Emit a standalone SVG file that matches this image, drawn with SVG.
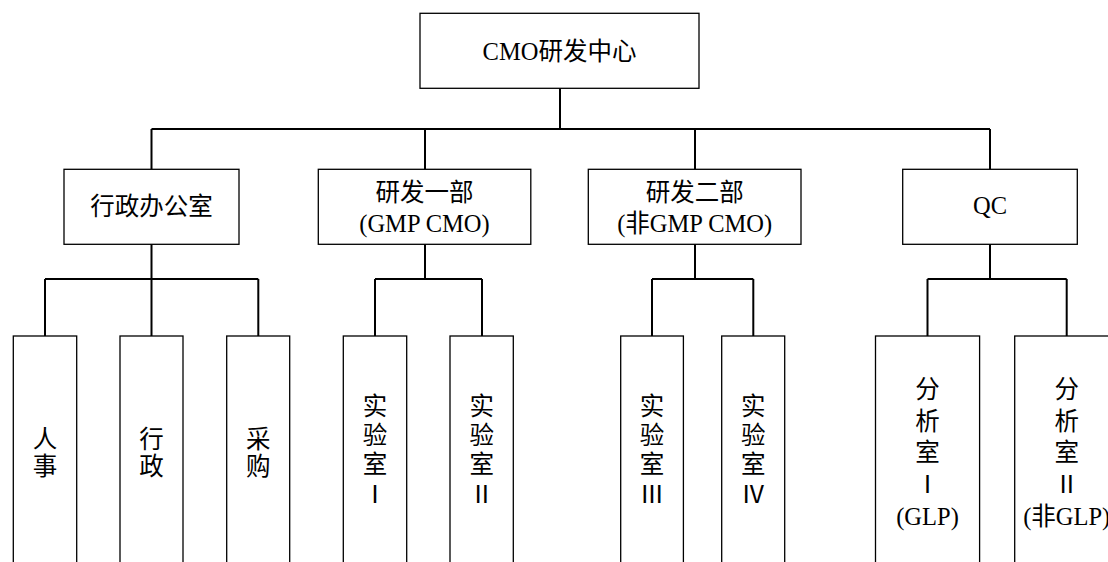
<svg xmlns="http://www.w3.org/2000/svg" width="1108" height="562" viewBox="0 0 1108 562">
<style>
.box{fill:#fff;stroke:#000;stroke-width:1.3}
.con{fill:none;stroke:#000;stroke-width:2}
text{font-family:"Liberation Serif","Noto Sans CJK SC",serif;font-size:24.5px;fill:#000;text-anchor:middle}
</style>
<rect width="1108" height="562" fill="#fff"/>
<g id="connectors" class="con">
<path d="M560 88V129M151.5 129H990M151.5 129V169M425 129V169M695 129V169M990 129V169"/>
<path d="M151.5 244V279M45 279H258.3M45 279V336M151.5 279V336M258.3 279V336"/>
<path d="M425 244V279M375 279H482M375 279V336M482 279V336"/>
<path d="M695 244V279M652 279H753.3M652 279V336M753.3 279V336"/>
<path d="M990 244V279M927.5 279H1066.7M927.5 279V336M1066.7 279V336"/>
</g>
<g id="n-root"><rect class="box" x="420" y="13.3" width="279" height="75"/><text x="559.5" y="60">CMO研发中心</text></g>
<g id="n-admin"><rect class="box" x="64" y="169.3" width="175" height="75"/><text x="151.5" y="215">行政办公室</text></g>
<g id="n-rd1"><rect class="box" x="318.3" y="169.3" width="212.5" height="75"/><text x="424.5" y="201">研发一部</text><text x="424.5" y="232">(GMP CMO)</text></g>
<g id="n-rd2"><rect class="box" x="588.3" y="169.3" width="212.7" height="75"/><text x="694.7" y="201">研发二部</text><text x="694.7" y="232">(非GMP CMO)</text></g>
<g id="n-qc"><rect class="box" x="902.7" y="169.3" width="174.6" height="75"/><text x="990" y="214">QC</text></g>
<g id="n-hr"><rect class="box" x="13.3" y="336" width="63.4" height="260"/><text x="45" y="448">人</text><text x="45" y="475">事</text></g>
<g id="n-adm"><rect class="box" x="120" y="336" width="63" height="260"/><text x="151.5" y="448">行</text><text x="151.5" y="475">政</text></g>
<g id="n-pur"><rect class="box" x="226.7" y="336" width="63" height="260"/><text x="258.2" y="448">采</text><text x="258.2" y="475">购</text></g>
<g id="n-lab1"><rect class="box" x="343.3" y="336" width="63.4" height="260"/><text x="375" y="415">实</text><text x="375" y="444">验</text><text x="375" y="473">室</text><text x="375" y="503">Ⅰ</text></g>
<g id="n-lab2"><rect class="box" x="450" y="336" width="63.3" height="260"/><text x="481.7" y="415">实</text><text x="481.7" y="444">验</text><text x="481.7" y="473">室</text><text x="481.7" y="503">Ⅱ</text></g>
<g id="n-lab3"><rect class="box" x="620.7" y="336" width="62.7" height="260"/><text x="652" y="415">实</text><text x="652" y="444">验</text><text x="652" y="473">室</text><text x="652" y="503">Ⅲ</text></g>
<g id="n-lab4"><rect class="box" x="721.7" y="336" width="63" height="260"/><text x="753.2" y="415">实</text><text x="753.2" y="444">验</text><text x="753.2" y="473">室</text><text x="753.2" y="503">Ⅳ</text></g>
<g id="n-an1"><rect class="box" x="875.5" y="336" width="104.1" height="260"/><text x="927.5" y="398">分</text><text x="927.5" y="429.5">析</text><text x="927.5" y="461">室</text><text x="927.5" y="493">Ⅰ</text><text x="927.5" y="525">(GLP)</text></g>
<g id="n-an2"><rect class="box" x="1014.7" y="336" width="104" height="260"/><text x="1066.7" y="398">分</text><text x="1066.7" y="429.5">析</text><text x="1066.7" y="461">室</text><text x="1066.7" y="493">Ⅱ</text><text x="1066.7" y="525">(非GLP)</text></g>
</svg>
